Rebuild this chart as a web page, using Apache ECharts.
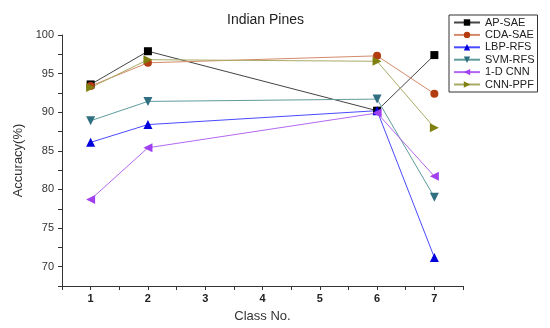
<!DOCTYPE html>
<html>
<head>
<meta charset="utf-8">
<script src="https://cdn.jsdelivr.net/npm/echarts@6/dist/echarts.min.js"></script>
<style>html,body{margin:0;padding:0;background:#fff;}#c{width:550px;height:328px;}</style>
</head>
<body>
<div id="c"></div>
<script>
var classes = [1, 2, 6, 7];
var seriesNames = ['AP-SAE', 'CDA-SAE', 'LBP-RFS', 'SVM-RFS', '1-D CNN', 'CNN-PPF'];
var apSae  = [93.6, 97.9, 90.2, 97.4];
var cdaSae = [93.4, 96.4, 97.3, 92.4];
var lbpRfs = [86.1, 88.4, 90.2, 71.2];
var svmRfs = [88.9, 91.4, 91.7, 79.0];
var cnn1d  = [78.7, 85.4, 89.9, 81.7];
var cnnPpf = [93.2, 96.8, 96.6, 88.0];
var yTicks = [70, 75, 80, 85, 90, 95, 100];
var xTicks = [1, 2, 3, 4, 5, 6, 7];

var values = [apSae, cdaSae, lbpRfs, svmRfs, cnn1d, cnnPpf];
var lineColors = ['#444444', '#d48a68', '#4a4aff', '#5f9c9c', '#b468f0', '#aaaa66'];
var markColors = ['#000000', '#b33c10', '#0000dd', '#2f6f80', '#a040f0', '#808010'];
var symbols = ['rect', 'circle', 'triangle', 'triangle', 'triangle', 'triangle'];
var rotates = [0, 0, 0, 180, 90, -90];
var sizes = [8, 8, 9, 9, 9, 9];

function pairs(arr) { return classes.map(function (c, i) { return [c, arr[i]]; }); }

var series = seriesNames.map(function (n, k) {
  return {
    name: n, type: 'line', data: pairs(values[k]),
    symbol: symbols[k], symbolRotate: rotates[k], symbolSize: sizes[k],
    showAllSymbol: true,
    lineStyle: { color: lineColors[k], width: 1 },
    itemStyle: { color: markColors[k] },
    emphasis: { disabled: true }, animation: false
  };
});

var chart = echarts.init(document.getElementById('c'), null, { renderer: 'canvas' });
chart.setOption({
  animation: false,
  backgroundColor: '#fff',
  title: {
    text: 'Indian Pines', left: 222, top: 8,
    textStyle: { fontFamily: 'Liberation Sans', fontSize: 14, fontWeight: 'normal', color: '#222' }
  },
  legend: {
    orient: 'vertical', left: 449, top: 15,
    data: seriesNames,
    borderColor: '#333', borderWidth: 1, padding: [2, 3, 2, 4],
    itemWidth: 26, itemHeight: 8, itemGap: 1.4,
    textStyle: { fontFamily: 'Liberation Sans', fontSize: 11, color: '#222', lineHeight: 11 },
    selectedMode: false
  },
  grid: { left: 62, right: 87, top: 35, bottom: 42 },
  xAxis: {
    type: 'value', min: 0.5, max: 7.5, interval: 0.5,
    name: 'Class No.', nameLocation: 'middle', nameGap: 24,
    nameTextStyle: { fontFamily: 'Liberation Sans', fontSize: 13, color: '#333' },
    axisLine: { lineStyle: { color: '#333', width: 1 } },
    axisTick: { inside: false, length: 4, lineStyle: { color: '#333' } },
    axisLabel: {
      fontFamily: 'Liberation Sans', fontSize: 11, fontWeight: 'bold', color: '#222', margin: 7,
      formatter: function (v) { return xTicks.indexOf(v) >= 0 ? String(v) : ''; }
    },
    splitLine: { show: false }
  },
  yAxis: {
    type: 'value', min: 67.5, max: 100, interval: 2.5,
    name: 'Accuracy(%)', nameLocation: 'middle', nameGap: 36,
    nameTextStyle: { fontFamily: 'Liberation Sans', fontSize: 13, color: '#333' },
    axisLine: { show: true, lineStyle: { color: '#333', width: 1 } },
    axisTick: { show: true, length: 4, lineStyle: { color: '#333' } },
    axisLabel: {
      fontFamily: 'Liberation Sans', fontSize: 11, color: '#333', margin: 8,
      formatter: function (v) { return yTicks.indexOf(v) >= 0 ? String(v) : ''; }
    },
    splitLine: { show: false }
  },
  series: series
});
</script>
</body>
</html>
